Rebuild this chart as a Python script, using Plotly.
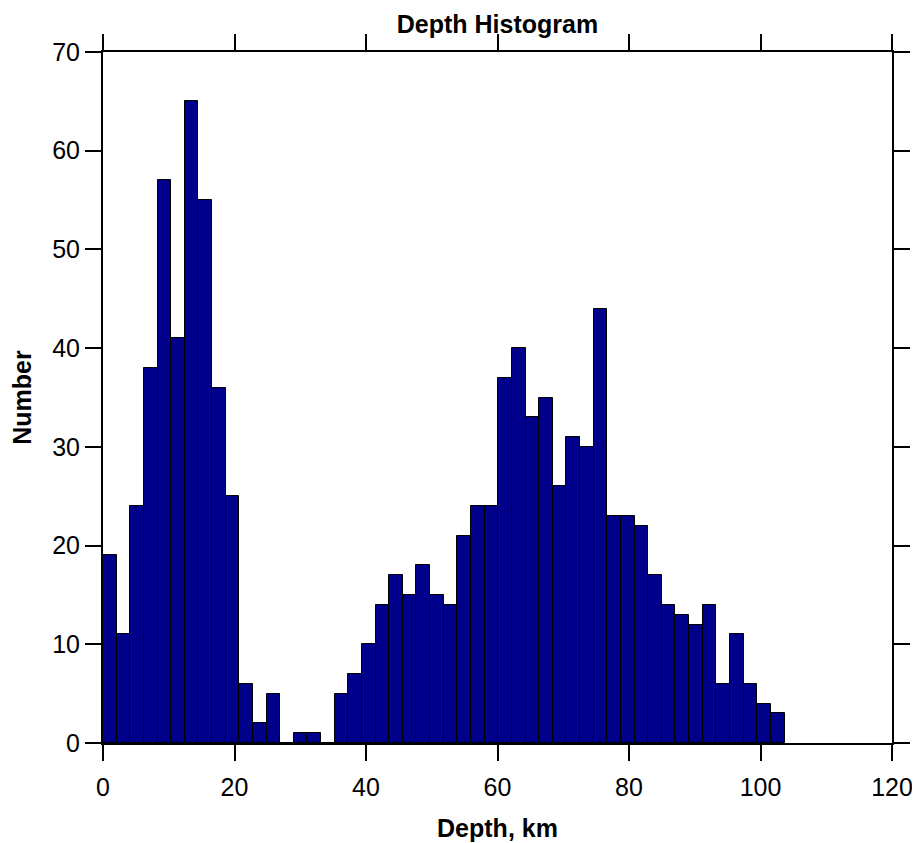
import plotly.graph_objects as go

# Histogram counts per depth bin
counts = [19, 11, 24, 38, 57, 41, 65, 55, 36, 25,
          6, 2, 5, 0, 1, 1, 0, 5, 7, 10,
          14, 17, 15, 18, 15, 14, 21, 24, 24, 37,
          40, 33, 35, 26, 31, 30, 44, 23, 23, 22,
          17, 14, 13, 12, 14, 6, 11, 6, 4, 3]
bin_start = 0.0
bin_width = 2.073  # km

x_ticks = [0, 20, 40, 60, 80, 100, 120]
y_ticks = [0, 10, 20, 30, 40, 50, 60, 70]

FONT = "Arial, 'Liberation Sans', sans-serif"

# The page body has an 8px default margin, so the figure is drawn slightly smaller
W, H = 912, 835

fig = go.Figure(go.Bar(
    y=counts,
    x0=bin_start + bin_width / 2,
    dx=bin_width,
    width=bin_width,
    marker=dict(color="#00008B", line=dict(color="#000000", width=1)),
    showlegend=False,
))

axis_common = dict(
    showline=True, linecolor="black", linewidth=2,
    mirror="ticks", ticks="outside", ticklen=16, tickwidth=2,
    tickcolor="black", showgrid=False, zeroline=False, automargin=False,
    tickfont=dict(family=FONT, size=25, color="black"),
)

ml, mr, mt, mb = 95, 28, 44, 100

fig.update_layout(
    width=W, height=H,
    margin=dict(l=ml, r=mr, t=mt, b=mb, autoexpand=False),
    plot_bgcolor="white", paper_bgcolor="white",
    bargap=0,
    title=dict(text="<b>Depth Histogram</b>", x=(ml + (W - mr)) / 2 / W, xanchor="center",
               y=1 - 7 / H, yanchor="top", yref="container", pad=dict(t=0, b=0),
               font=dict(family=FONT, size=25, color="black")),
    xaxis=dict(range=[0, 120], tickvals=x_ticks, ticktext=[str(v) for v in x_ticks],
               ticklabelstandoff=5,
               title=dict(text="<b>Depth, km</b>", standoff=19,
                          font=dict(family=FONT, size=25, color="black")),
               **axis_common),
    yaxis=dict(range=[0, 70], tickvals=y_ticks, ticktext=[str(v) for v in y_ticks],
               title=dict(text="<b>Number</b>", standoff=20,
                          font=dict(family=FONT, size=25, color="black")),
               **axis_common),
)

fig.write_html("out.html")
